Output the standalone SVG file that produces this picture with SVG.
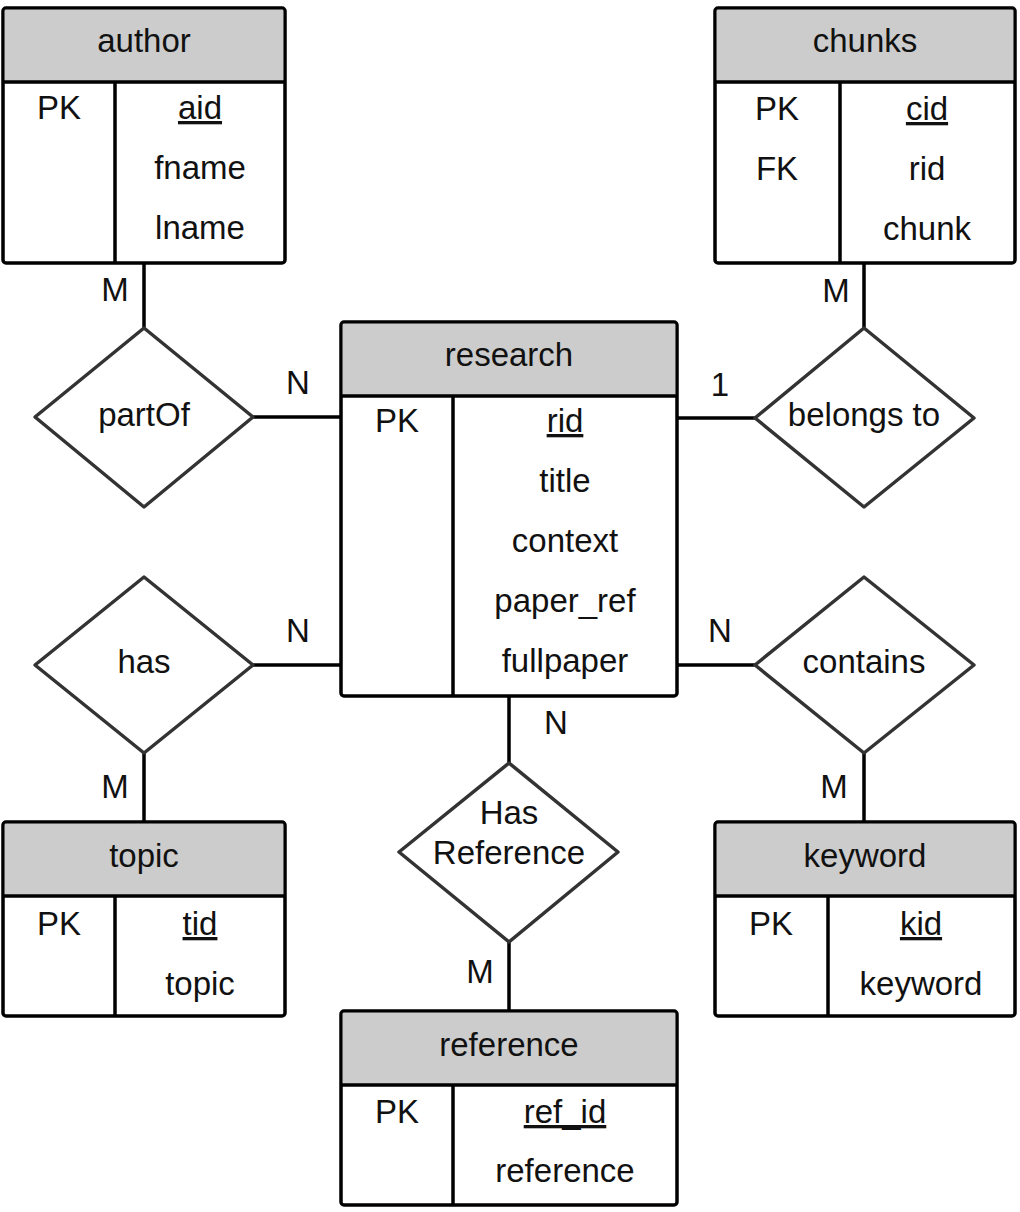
<svg xmlns="http://www.w3.org/2000/svg" width="1020" height="1212" viewBox="0 0 1020 1212">
<style>
text{font-family:"Liberation Sans",Arial,sans-serif;font-size:33px;fill:#111;text-anchor:middle}
.box{fill:#fff;stroke:#000;stroke-width:3.5}
.hdr{fill:#cccccc;stroke:none}
.ln{stroke:#000;stroke-width:3.5;fill:none}
.dia{fill:#fff;stroke:#333;stroke-width:3.5;stroke-linejoin:round}
.conn{stroke:#000;stroke-width:3.5;fill:none}
.u{text-decoration:underline}
</style>
<rect width="1020" height="1212" fill="#fff"/>
<g id="connectors">
<line class="conn" x1="144" y1="263" x2="144" y2="328"/>
<line class="conn" x1="253" y1="417" x2="341" y2="417"/>
<line class="conn" x1="864" y1="263" x2="864" y2="328"/>
<line class="conn" x1="755" y1="418" x2="677" y2="418"/>
<line class="conn" x1="253" y1="665" x2="341" y2="665"/>
<line class="conn" x1="144" y1="753" x2="144" y2="822"/>
<line class="conn" x1="755" y1="665" x2="677" y2="665"/>
<line class="conn" x1="864" y1="753" x2="864" y2="822"/>
<line class="conn" x1="509" y1="696" x2="509" y2="763"/>
<line class="conn" x1="509" y1="942" x2="509" y2="1011"/>
<text x="115" y="301">M</text>
<text x="298" y="394">N</text>
<text x="836" y="302">M</text>
<text x="720" y="396">1</text>
<text x="298" y="642">N</text>
<text x="115" y="798">M</text>
<text x="720" y="642">N</text>
<text x="834" y="798">M</text>
<text x="556" y="734">N</text>
<text x="480" y="983">M</text>
</g>
<g id="author">
<rect class="box" x="3" y="8" width="282" height="255" rx="3"/>
<rect class="hdr" x="4.75" y="9.75" width="278.5" height="72"/>
<line class="ln" x1="3" y1="82" x2="285" y2="82"/>
<line class="ln" x1="115" y1="82" x2="115" y2="263"/>
<text x="144" y="52">author</text>
<text x="59" y="119">PK</text>
<text x="200" y="119" class="u">aid</text>
<text x="200" y="179">fname</text>
<text x="200" y="239">lname</text>
</g>
<g id="chunks">
<rect class="box" x="715" y="8" width="300" height="255" rx="3"/>
<rect class="hdr" x="716.75" y="9.75" width="296.5" height="72"/>
<line class="ln" x1="715" y1="82" x2="1015" y2="82"/>
<line class="ln" x1="840" y1="82" x2="840" y2="263"/>
<text x="865" y="52">chunks</text>
<text x="777" y="120">PK</text>
<text x="927" y="120" class="u">cid</text>
<text x="777" y="180">FK</text>
<text x="927" y="180">rid</text>
<text x="927" y="240">chunk</text>
</g>
<g id="research">
<rect class="box" x="341" y="322" width="336" height="374" rx="3"/>
<rect class="hdr" x="342.75" y="323.75" width="332.5" height="72"/>
<line class="ln" x1="341" y1="396" x2="677" y2="396"/>
<line class="ln" x1="453" y1="396" x2="453" y2="696"/>
<text x="509" y="366">research</text>
<text x="397" y="432">PK</text>
<text x="565" y="432" class="u">rid</text>
<text x="565" y="492">title</text>
<text x="565" y="552">context</text>
<text x="565" y="612">paper_ref</text>
<text x="565" y="672">fullpaper</text>
</g>
<g id="topic">
<rect class="box" x="3" y="822" width="282" height="194" rx="3"/>
<rect class="hdr" x="4.75" y="823.75" width="278.5" height="72"/>
<line class="ln" x1="3" y1="896" x2="285" y2="896"/>
<line class="ln" x1="115" y1="896" x2="115" y2="1016"/>
<text x="144" y="867">topic</text>
<text x="59" y="935">PK</text>
<text x="200" y="935" class="u">tid</text>
<text x="200" y="995">topic</text>
</g>
<g id="keyword">
<rect class="box" x="715" y="822" width="300" height="194" rx="3"/>
<rect class="hdr" x="716.75" y="823.75" width="296.5" height="72"/>
<line class="ln" x1="715" y1="896" x2="1015" y2="896"/>
<line class="ln" x1="828" y1="896" x2="828" y2="1016"/>
<text x="865" y="867">keyword</text>
<text x="771" y="935">PK</text>
<text x="921" y="935" class="u">kid</text>
<text x="921" y="995">keyword</text>
</g>
<g id="reference">
<rect class="box" x="341" y="1011" width="336" height="194" rx="3"/>
<rect class="hdr" x="342.75" y="1012.75" width="332.5" height="72"/>
<line class="ln" x1="341" y1="1085" x2="677" y2="1085"/>
<line class="ln" x1="453" y1="1085" x2="453" y2="1205"/>
<text x="509" y="1056">reference</text>
<text x="397" y="1123">PK</text>
<text x="565" y="1123" class="u">ref_id</text>
<text x="565" y="1182">reference</text>
</g>
<g id="partOf">
<polygon class="dia" points="144,328 253,417 144,507 35,417"/>
<text x="144" y="426">partOf</text>
</g>
<g id="belongsTo">
<polygon class="dia" points="864,328 974,418 864,507 755,418"/>
<text x="864" y="426">belongs to</text>
</g>
<g id="has">
<polygon class="dia" points="144,577 253,665 144,753 35,665"/>
<text x="144" y="673">has</text>
</g>
<g id="contains">
<polygon class="dia" points="864,577 974,665 864,753 755,665"/>
<text x="864" y="673">contains</text>
</g>
<g id="hasReference">
<polygon class="dia" points="509,763 618,852 509,942 399,852"/>
<text x="509" y="824">Has</text>
<text x="509" y="864">Reference</text>
</g>
</svg>
